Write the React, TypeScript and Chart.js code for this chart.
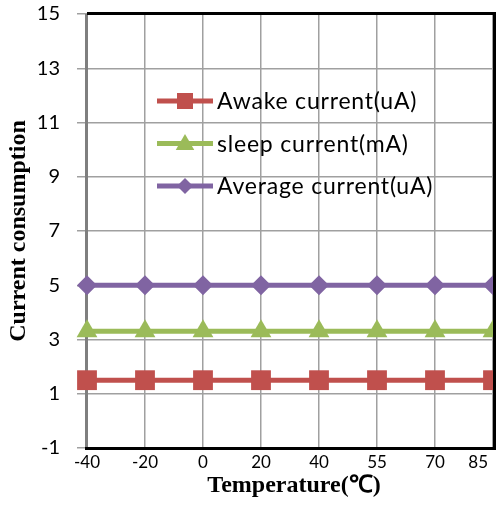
import React, { useEffect, useRef } from 'react';
import { Chart, registerables } from 'chart.js';

Chart.register(...registerables);

const temperatures = ['-40', '-20', '0', '20', '40', '55', '70', '85'];
const awakeCurrent = [1.5, 1.5, 1.5, 1.5, 1.5, 1.5, 1.5, 1.5];
const sleepCurrent = [3.3, 3.3, 3.3, 3.3, 3.3, 3.3, 3.3, 3.3];
const averageCurrent = [5, 5, 5, 5, 5, 5, 5, 5];
const seriesNames = ['Awake current(uA)', 'sleep current(mA)', 'Average current(uA)'];
const seriesColors = ['#C0504D', '#9BBB59', '#8064A2'];
const seriesMarkers = ['rect', 'triangle', 'rectRot'];
const yMin = -1;
const yMax = 15;
const yStep = 2;
const xTitle = 'Temperature(℃)';
const yTitle = 'Current consumption';

const LABEL_FONT = 'Lato, "Open Sans", sans-serif';
const TITLE_FONT = '"Liberation Serif", "Times New Roman", serif';

function drawMarker(ctx: CanvasRenderingContext2D, kind: string, x: number, y: number, s: number, color: string) {
  ctx.save();
  ctx.fillStyle = color;
  ctx.beginPath();
  if (kind === 'rect') {
    ctx.rect(x - s / 2, y - s / 2, s, s);
  } else if (kind === 'triangle') {
    ctx.moveTo(x, y - s * 0.6);
    ctx.lineTo(x + s * 0.58, y + s * 0.4);
    ctx.lineTo(x - s * 0.58, y + s * 0.4);
    ctx.closePath();
  } else {
    ctx.moveTo(x, y - s / 2);
    ctx.lineTo(x + s / 2, y);
    ctx.lineTo(x, y + s / 2);
    ctx.lineTo(x - s / 2, y);
    ctx.closePath();
  }
  ctx.fill();
  ctx.restore();
}

const excelPlugin = {
  id: 'excelPlugin',
  beforeDraw(chart: any) {
    const { ctx, width, height } = chart;
    ctx.save();
    ctx.fillStyle = '#ffffff';
    ctx.fillRect(0, 0, width, height);
    ctx.restore();
  },
  beforeDatasetsDraw(chart: any) {
    const { ctx, chartArea } = chart;
    ctx.save();
    ctx.strokeStyle = '#7f7f7f';
    ctx.lineWidth = 3;
    ctx.beginPath();
    ctx.moveTo(chartArea.left - 0.5, chartArea.top);
    ctx.lineTo(chartArea.left - 0.5, chartArea.bottom);
    ctx.stroke();
    ctx.restore();
  },
  afterDatasetsDraw(chart: any) {
    const { ctx, chartArea } = chart;
    ctx.save();
    ctx.strokeStyle = '#000000';
    ctx.lineWidth = 3;
    ctx.beginPath();
    ctx.moveTo(chartArea.left, chartArea.top - 0.5);
    ctx.lineTo(chartArea.right + 1.5, chartArea.top - 0.5);
    ctx.lineTo(chartArea.right + 1.5, chartArea.bottom + 0.5);
    ctx.lineTo(chartArea.left - 2, chartArea.bottom + 0.5);
    ctx.stroke();
    ctx.restore();
  },
  afterDraw(chart: any) {
    const { ctx, chartArea } = chart;
    const xScale = chart.scales.x;
    ctx.save();
    // x tick labels
    ctx.fillStyle = '#000';
    ctx.font = '17px ' + LABEL_FONT;
    ctx.textBaseline = 'middle';
    ctx.textAlign = 'center';
    const maxRight = chart.width - 8;
    temperatures.forEach((t, i) => {
      let x = xScale.getPixelForValue(i);
      const w = ctx.measureText(t).width;
      if (x + w / 2 > maxRight) x = maxRight - w / 2;
      ctx.fillText(t, x, chartArea.bottom + 15);
    });
    // axis titles
    ctx.font = 'bold 24px ' + TITLE_FONT;
    ctx.fillText(xTitle, (chartArea.left + chartArea.right) / 2 + 4, chartArea.bottom + 38);
    ctx.save();
    ctx.translate(19, (chartArea.top + chartArea.bottom) / 2);
    ctx.rotate(-Math.PI / 2);
    ctx.fillText(yTitle, 0, 0);
    ctx.restore();
    // legend
    const lx = chartArea.left + 70;
    const ly = chartArea.top + 87;
    const rowH = 42.5;
    ctx.font = '23px ' + LABEL_FONT;
    try { (ctx as any).letterSpacing = '0.8px'; } catch (e) {}
    ctx.textAlign = 'left';
    seriesNames.forEach((name, i) => {
      const y = ly + i * rowH;
      ctx.strokeStyle = seriesColors[i];
      ctx.lineWidth = 5;
      ctx.beginPath();
      ctx.moveTo(lx, y);
      ctx.lineTo(lx + 56, y);
      ctx.stroke();
      drawMarker(ctx, seriesMarkers[i], lx + 28, y, 16, seriesColors[i]);
      ctx.fillStyle = '#000';
      ctx.fillText(name, lx + 60, y + 1);
    });
    ctx.restore();
  },
};

export default function App() {
  const canvasRef = useRef<HTMLCanvasElement | null>(null);

  useEffect(() => {
    document.body.style.margin = '0';
    const canvas = canvasRef.current;
    if (!canvas) return;
    const values = [awakeCurrent, sleepCurrent, averageCurrent];
    const radii = [14, 12, 10];
    const chart = new Chart(canvas, {
      type: 'line',
      data: {
        labels: temperatures,
        datasets: seriesNames.map((name, i) => ({
          label: name,
          data: values[i],
          borderColor: seriesColors[i],
          backgroundColor: seriesColors[i],
          borderWidth: 5,
          pointStyle: seriesMarkers[i] as any,
          pointRadius: radii[i],
          pointBorderWidth: 0,
          pointBackgroundColor: seriesColors[i],
          tension: 0,
          fill: false,
        })),
      },
      options: {
        responsive: false,
        animation: false,
        events: [],
        layout: { autoPadding: false, padding: { top: 14, right: 3, left: 0, bottom: 0 } },
        plugins: {
          legend: { display: false },
          tooltip: { enabled: false },
        },
        scales: {
          x: {
            type: 'category',
            offset: false,
            grid: { color: '#a0a0a0', lineWidth: 1.5, drawTicks: false, offset: false },
            border: { display: false },
            ticks: { display: false },
            afterFit(scale: any) {
              scale.height = 57;
              scale.paddingLeft = 0;
              scale.paddingRight = 0;
            },
          },
          y: {
            min: yMin,
            max: yMax,
            grid: { color: '#a0a0a0', lineWidth: 1.5, tickLength: 10 },
            border: { display: false },
            ticks: {
              stepSize: yStep,
              padding: 17,
              color: '#000',
              font: { family: LABEL_FONT, size: 20 },
            },
            afterFit(scale: any) {
              scale.width = 87;
              scale.paddingTop = 0;
              scale.paddingBottom = 0;
            },
          },
        },
      },
      plugins: [excelPlugin],
    });
    return () => chart.destroy();
  }, []);

  return (
    <div style={{ width: 496, height: 505 }}>
      <canvas ref={canvasRef} width={496} height={505} style={{ display: 'block' }} />
    </div>
  );
}
